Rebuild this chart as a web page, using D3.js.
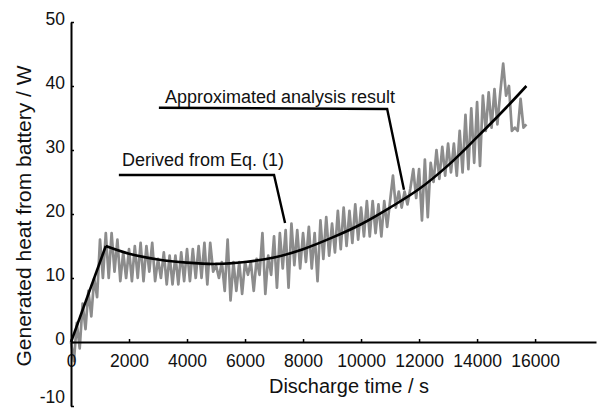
<!DOCTYPE html>
<html>
<head>
<meta charset="utf-8">
<script src="https://cdn.jsdelivr.net/npm/d3@7"></script>
<style>
  body { margin: 0; background: #fff; }
  text { font-family: "Liberation Sans", Arial, sans-serif; fill: #111; }
</style>
</head>
<body>
<svg id="chart"></svg>
<script>
const width = 598;
const height = 410;

const xTicks = [0, 2000, 4000, 6000, 8000, 10000, 12000, 14000, 16000];
const yTicks = [-10, 0, 10, 20, 30, 40, 50];

// measured heat (W), one reading every 100 s from t = 0
const measuredStep = 100;
const measuredHeat = [
  0, -3, 3, -1, 6, 2, 8, 4, 10, 7, 16, 10, 17,
  10, 17, 11, 16, 9.5, 14, 10, 14.5,
  9.5, 15, 10, 15.5, 9.5, 15, 11, 15.5, 9.5, 13,
  10, 14, 9, 13.5, 9, 13.5, 9, 14, 9.5, 14.5,
  9.5, 14.5, 10, 15, 10, 15.5, 9, 15.5, 11, 12,
  10, 12.5, 8, 16, 6.5, 12.5, 8, 12.5, 7.5, 12.5,
  10.5, 12.5, 8, 13, 10.5, 17, 7.5, 13.5, 10.5, 16.5,
  8.5, 17, 11.5, 17.5, 8.5, 18.5, 12, 17.5, 11.5, 17,
  12.5, 18, 11.5, 17, 9.5, 19, 13, 19.5, 13.5, 18.5,
  14, 20.5, 14.5, 21, 15, 20.5, 15.5, 21.5, 16, 21,
  16.5, 22, 16.5, 22, 17, 21.5, 16.5, 22, 18, 22,
  26, 21, 23.5, 21, 23.5, 21.5, 24, 27, 22.5, 27,
  19, 28.5, 19.5, 28, 25, 30, 25.5, 30.5, 26, 31,
  26.5, 31, 26, 33, 26.5, 35.5, 27, 36.5, 28, 37.5,
  27.5, 38.5, 33, 39, 33.5, 39.5, 34, 39, 43.5, 38.5,
  40, 33, 33.5, 33, 38, 33.5, 34
];

// approximated analysis result
const riseTime = [0, 1200];
const riseHeat = [0, 15];
const approxTime = [1200, 2000, 3000, 4000, 5000, 6000, 7000, 8000, 9000, 10000, 11000, 12000, 13000, 14000, 15000, 15700];
const approxHeat = [15, 13.8, 12.9, 12.4, 12.2, 12.5, 13.2, 14.5, 16.3, 18.4, 21.0, 23.9, 27.6, 32.0, 36.6, 40.0];

// annotation labels, anchored in data units
const notes = [
  { text: 'Approximated analysis result', at: [3240, 37.3],
    leader: [[3030, 36.6], [10900, 36.4], [11480, 23.8]] },
  { text: 'Derived from Eq. (1)', at: [1760, 27.5],
    leader: [[1650, 26.1], [7000, 26.1], [7380, 18.6]] }
];

const svg = d3.select('#chart')
    .attr('width', width)
    .attr('height', height);

const x = d3.scaleLinear().domain([0, 18100]).range([71, 596]);
const y = d3.scaleLinear().domain([-10, 50]).range([406, 22]);

// measured data
const measured = measuredHeat.map((v, i) => [i * measuredStep, v]);
svg.append('path')
    .datum(measured)
    .attr('fill', 'none')
    .attr('stroke', '#8c8c8c')
    .attr('stroke-width', 2.7)
    .attr('stroke-linejoin', 'round')
    .attr('d', d3.line().x(d => x(d[0])).y(d => y(d[1])));

// axes (plain hyphen for negatives, like the original)
const plain = d => String(d);
const xAxis = svg.append('g')
    .attr('transform', `translate(0, ${y(0)})`)
    .call(d3.axisBottom(x).tickValues(xTicks).tickFormat(plain)
      .tickSizeInner(-3).tickSizeOuter(0).tickPadding(12.5));

const yAxis = svg.append('g')
    .attr('transform', `translate(${x(0)}, 0)`)
    .call(d3.axisLeft(y).tickValues(yTicks).tickFormat(plain)
      .tickSizeInner(-3).tickSizeOuter(0).tickPadding(6));

[xAxis, yAxis].forEach(a => {
  a.select('.domain').attr('stroke', '#000').attr('stroke-width', 2);
  a.selectAll('.tick line').attr('stroke', '#000').attr('stroke-width', 1.5);
  a.selectAll('.tick text')
      .attr('font-size', 17.5)
      .attr('font-family', '"Liberation Sans", Arial, sans-serif')
      .attr('fill', '#111');
});
// bottom label sits on the window edge, lift it a little
yAxis.selectAll('.tick text').attr('dy', d => d === -10 ? '-0.2em' : '0.15em');

// approximated curve
const line = d3.line().x(d => x(d[0])).y(d => y(d[1]));
svg.append('path')
    .datum(riseTime.map((t, i) => [t, riseHeat[i]]))
    .attr('fill', 'none')
    .attr('stroke', '#000')
    .attr('stroke-width', 2.6)
    .attr('d', line);

svg.append('path')
    .datum(approxTime.map((t, i) => [t, approxHeat[i]]))
    .attr('fill', 'none')
    .attr('stroke', '#000')
    .attr('stroke-width', 2.6)
    .attr('d', line.curve(d3.curveCatmullRom));

// annotations
notes.forEach(n => {
  svg.append('text')
      .attr('x', x(n.at[0]))
      .attr('y', y(n.at[1]))
      .attr('font-size', 18)
      .text(n.text);
  svg.append('path')
      .datum(n.leader)
      .attr('fill', 'none')
      .attr('stroke', '#000')
      .attr('stroke-width', 2.4)
      .attr('d', d3.line().x(d => x(d[0])).y(d => y(d[1])));
});

// axis titles
svg.append('text')
    .attr('x', 349)
    .attr('y', 393)
    .attr('text-anchor', 'middle')
    .attr('font-size', 20)
    .text('Discharge time / s');

svg.append('text')
    .attr('transform', 'translate(31, 216) rotate(-90)')
    .attr('text-anchor', 'middle')
    .attr('font-size', 21)
    .text('Generated heat from battery / W');
</script>
</body>
</html>
